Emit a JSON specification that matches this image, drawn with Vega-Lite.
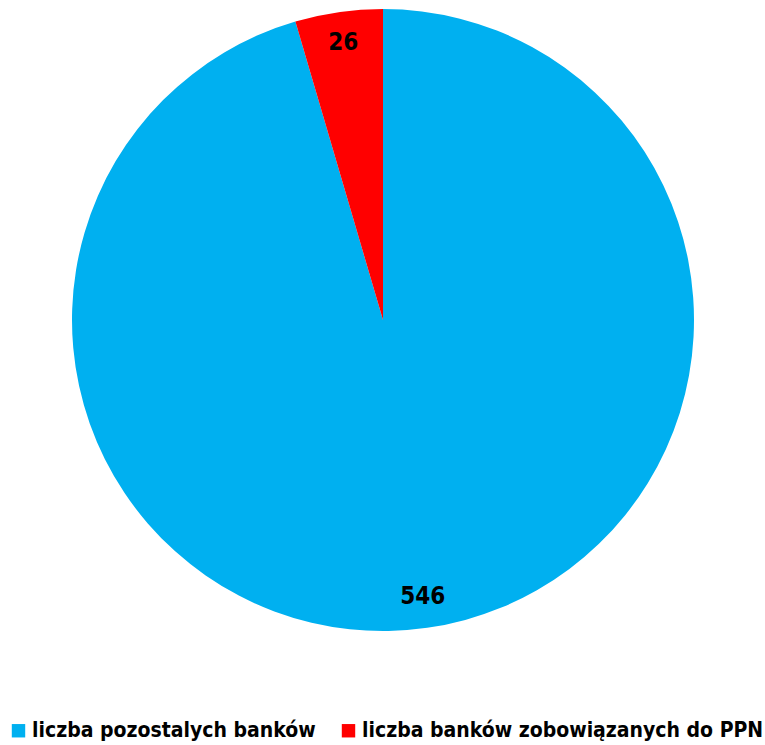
{
  "$schema": "https://vega.github.io/schema/vega-lite/v6.json",
  "width": 766,
  "height": 640,
  "autosize": "none",
  "padding": {"left": 0, "top": 0, "right": 0, "bottom": 105},
  "background": "white",
  "view": {"stroke": null},
  "data": {
    "values": [
      {"kategoria": "liczba pozostalych banków", "liczba": 546, "kolejnosc": 1},
      {"kategoria": "liczba banków zobowiązanych do PPN", "liczba": 26, "kolejnosc": 2}
    ]
  },
  "encoding": {
    "theta": {"field": "liczba", "type": "quantitative", "stack": true},
    "order": {"field": "kolejnosc", "type": "quantitative"}
  },
  "layer": [
    {
      "mark": {"type": "arc", "radius": 311},
      "encoding": {
        "color": {
          "field": "kategoria",
          "type": "nominal",
          "sort": ["liczba pozostalych banków", "liczba banków zobowiązanych do PPN"],
          "scale": {
            "domain": ["liczba pozostalych banków", "liczba banków zobowiązanych do PPN"],
            "range": ["#00B0F0", "#FF0000"]
          },
          "legend": {
            "title": null,
            "orient": "none",
            "legendX": 8,
            "legendY": 720,
            "direction": "horizontal",
            "symbolType": "square",
            "symbolSize": 180,
            "symbolStrokeWidth": 0,
            "labelFont": "DejaVu Sans Condensed",
            "labelFontWeight": "bold",
            "labelFontSize": 21,
            "labelColor": "black",
            "labelLimit": 600,
            "labelOffset": 3,
            "columnPadding": 22
          }
        }
      }
    },
    {
      "mark": {
        "type": "text",
        "radius": 280,
        "font": "DejaVu Sans Condensed",
        "fontWeight": "bold",
        "fontSize": 24,
        "fill": "black",
        "baseline": "middle"
      },
      "encoding": {
        "text": {"field": "liczba", "type": "quantitative"},
        "detail": {"field": "kategoria"}
      }
    }
  ]
}
